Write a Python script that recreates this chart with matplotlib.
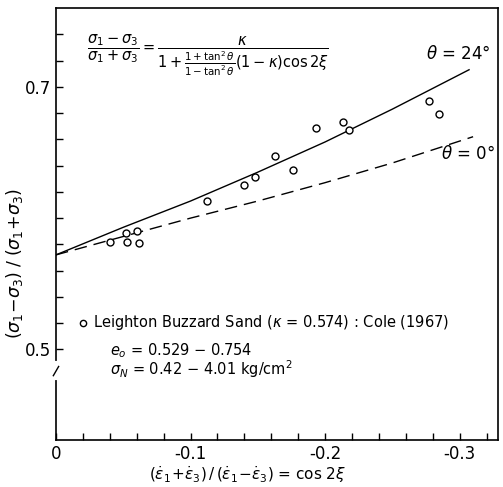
import matplotlib
matplotlib.use("Agg")
import matplotlib.pyplot as plt
import numpy as np

plt.rcParams['font.family'] = ['DejaVu Sans']
plt.rcParams['mathtext.fontset'] = 'dejavusans'

# theoretical curves
curve24_x = [0.0, -0.05, -0.10, -0.15, -0.20, -0.25, -0.307]
curve24_y = [0.572, 0.593, 0.613, 0.635, 0.658, 0.683, 0.713]
curve0_x = [0.0, -0.05, -0.10, -0.15, -0.20, -0.25, -0.310]
curve0_y = [0.572, 0.586, 0.600, 0.613, 0.627, 0.642, 0.662]

# Leighton Buzzard sand, Cole (1967)
data_x = [-0.040, -0.052, -0.053, -0.060, -0.062, -0.112, -0.140, -0.148,
          -0.163, -0.176, -0.193, -0.213, -0.218, -0.277, -0.285]
data_y = [0.582, 0.589, 0.582, 0.590, 0.581, 0.613, 0.625, 0.631,
          0.647, 0.637, 0.669, 0.673, 0.667, 0.689, 0.679]

xticks = [0, -0.1, -0.2, -0.3]
xtick_labels = ["0", "-0.1", "-0.2", "-0.3"]
yticks = [0.5, 0.7]
ytick_labels = ["0.5", "0.7"]

fig = plt.figure(figsize=(5.03, 4.87), dpi=100)
ax = fig.add_axes([0.1113, 0.0965, 0.879, 0.887])

ax.plot(curve24_x, curve24_y, color="black", lw=1.0)
ax.plot(curve0_x, curve0_y, color="black", lw=1.0, linestyle=(0, (9, 5)))
ax.plot(data_x, data_y, linestyle="none", marker="o", ms=5, mfc="white",
        mec="black", mew=1.0)

ax.set_xlim(0, -0.3286)
ax.set_ylim(0.431, 0.76)

ax.set_xticks(xticks)
ax.set_xticklabels(xtick_labels, fontsize=12)
ax.set_xticks(np.arange(0, -0.33, -0.02), minor=True)
ax.set_yticks(yticks)
ax.set_yticklabels(ytick_labels, fontsize=12)
ax.set_yticks(np.arange(0.5, 0.75, 0.02), minor=True)
ax.tick_params(which="both", direction="in", length=5, width=1, top=False, right=False)
for s in ax.spines.values():
    s.set_linewidth(1.2)

ax.set_xlabel(r"$(\dot{\varepsilon}_1\!+\!\dot{\varepsilon}_3)\,/\,(\dot{\varepsilon}_1\!-\!\dot{\varepsilon}_3)$ = cos 2$\xi$",
              fontsize=11)
ax.xaxis.set_label_coords(0.434, -0.055)
ax.set_ylabel(r"$(\sigma_1\!-\!\sigma_3)\;/\;(\sigma_1\!+\!\sigma_3)$", fontsize=12.5)
ax.yaxis.set_label_coords(-0.07, 0.41)

# axis break mark on y axis
ax.plot([0, 0], [0.478, 0.490], transform=ax.get_yaxis_transform(), color="white", lw=3,
        clip_on=False, zorder=5)
ax.plot([-0.006, 0.006], [0.480, 0.487], transform=ax.get_yaxis_transform(), color="black",
        lw=1, clip_on=False, zorder=6)

ax.text(0.07, 0.89,
        r"$\dfrac{\sigma_1-\sigma_3}{\sigma_1+\sigma_3} = \dfrac{\kappa}{1+\frac{1+\tan^2\theta}{1-\tan^2\theta}(1-\kappa)\cos 2\xi}$",
        transform=ax.transAxes, fontsize=10.5, va="center", ha="left")

ax.text(-0.299, 0.725, r"$\theta$ = 24°", fontsize=12, ha="center", va="center")
ax.text(-0.306, 0.649, r"$\theta$ = 0°", fontsize=12, ha="center", va="center")

ax.plot([0.061], [0.271], transform=ax.transAxes, marker="o", ms=4.5, mfc="white",
        mec="black", mew=1.0)
ax.text(0.083, 0.271, r"Leighton Buzzard Sand ($\kappa$ = 0.574) : Cole (1967)",
        transform=ax.transAxes, fontsize=10.5, va="center", ha="left")
ax.text(0.122, 0.208, r"$e_o$ = 0.529 $-$ 0.754",
        transform=ax.transAxes, fontsize=10.5, va="center", ha="left")
ax.text(0.122, 0.165, r"$\sigma_N$ = 0.42 $-$ 4.01 kg/cm$^2$",
        transform=ax.transAxes, fontsize=10.5, va="center", ha="left")

plt.savefig("out.png", dpi=100)
